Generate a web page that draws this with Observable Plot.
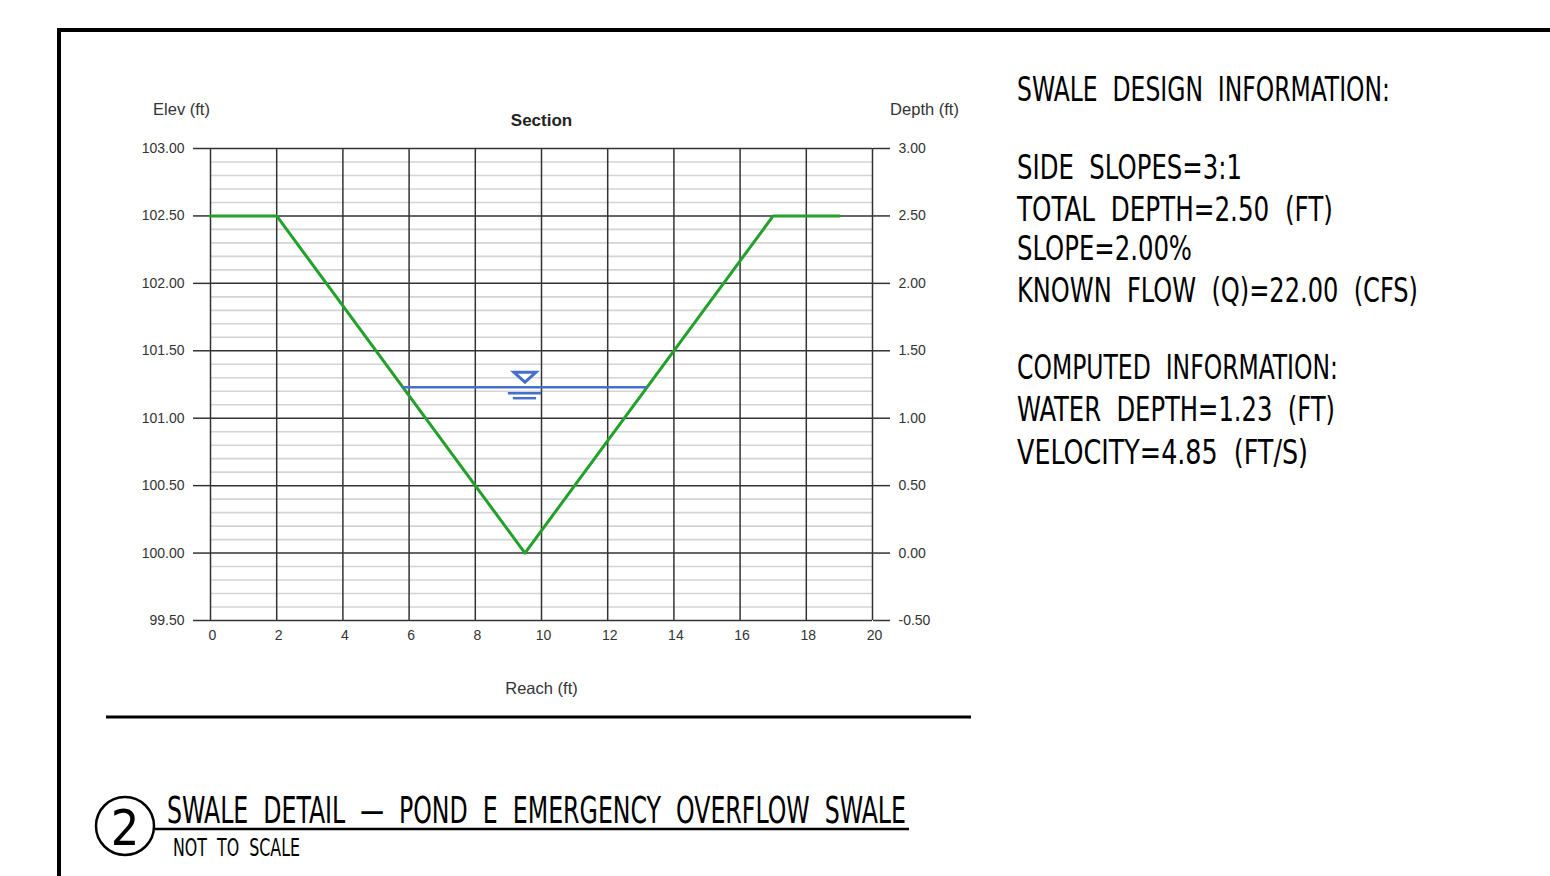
<!DOCTYPE html>
<html>
<head>
<meta charset="utf-8">
<script src="https://cdn.jsdelivr.net/npm/d3@7"></script>
<script src="https://cdn.jsdelivr.net/npm/@observablehq/plot@0.6"></script>
<style>
  html, body { margin: 0; padding: 0; background: #fff; }
  body { width: 1550px; height: 876px; position: relative; overflow: hidden; }
  #chart { position: absolute; left: 100px; top: 90px; }
  #sheet { position: absolute; left: 0; top: 0; pointer-events: none; }
  #sheet text { font-family: "Liberation Sans Narrow", "DejaVu Sans Condensed", "Liberation Sans", sans-serif; fill: #000; white-space: pre; }
</style>
</head>
<body>
<div id="chart"></div>
<svg id="sheet" width="1550" height="876" xmlns="http://www.w3.org/2000/svg"></svg>
<script>
// ---- data ----
const sectionReach = [0, 2, 9.5, 17, 19];          // ft
const sectionElev  = [102.5, 102.5, 100.0, 102.5, 102.5]; // ft
const waterElev = 101.23;                           // ft
const waterReach = [5.81, 13.19];                   // ft (where water meets side slopes)
const waterSymbolReach = 9.5;                       // ft
const waterSymbolBar1 = [9.0, 10.0];
const waterSymbolBar2 = [9.15, 9.85];
const reachTicks = [0, 2, 4, 6, 8, 10, 12, 14, 16, 18, 20];
const elevTicks = [99.5, 100.0, 100.5, 101.0, 101.5, 102.0, 102.5, 103.0];
const depthTickLabels = ["-0.50", "0.00", "0.50", "1.00", "1.50", "2.00", "2.50", "3.00"];
const minorElev = [99.6,99.7,99.8,99.9,100.1,100.2,100.3,100.4,100.6,100.7,100.8,100.9,
  101.1,101.2,101.3,101.4,101.6,101.7,101.8,101.9,102.1,102.2,102.3,102.4,102.6,102.7,102.8,102.9];

const designLines = [
  "SWALE  DESIGN  INFORMATION:",
  "SIDE  SLOPES=3:1",
  "TOTAL  DEPTH=2.50  (FT)",
  "SLOPE=2.00%",
  "KNOWN  FLOW  (Q)=22.00  (CFS)",
  "COMPUTED  INFORMATION:",
  "WATER  DEPTH=1.23  (FT)",
  "VELOCITY=4.85  (FT/S)"
];
const detailTitle = "SWALE  DETAIL  —  POND  E  EMERGENCY  OVERFLOW  SWALE";
const detailSub = "NOT  TO  SCALE";
const detailNumber = "2";

// ---- chart ----
const section = sectionReach.map((x, i) => ({x, y: sectionElev[i]}));
const gridDark = "#333";
const green = "#22a12a";
const blue = "#4470cc";

const flatTriangle = {
  draw(ctx, size) {
    const r = Math.sqrt(size / Math.PI);
    ctx.moveTo(-r, -r * 0.45);
    ctx.lineTo(r, -r * 0.45);
    ctx.lineTo(0, r * 0.45);
    ctx.closePath();
  }
};

const chart = Plot.plot({
  width: 880,
  height: 620,
  marginLeft: 110,
  marginRight: 108,
  marginTop: 58,
  marginBottom: 90,
  style: {fontFamily: "'Liberation Sans', Arial, sans-serif", fontSize: "14px", color: "#333", background: "transparent"},
  x: {domain: [0, 20]},
  y: {domain: [99.5, 103]},
  marks: [
    Plot.ruleY(minorElev, {stroke: "#d4d4d4", strokeWidth: 1.6}),
    Plot.ruleX(reachTicks, {y1: 99.5, y2: 103, stroke: gridDark, strokeWidth: 1.5}),
    Plot.ruleY(elevTicks, {stroke: gridDark, strokeWidth: 1.5}),
    Plot.axisY({anchor: "left", ticks: elevTicks, tickFormat: d => d.toFixed(2), tickSize: 17, tickPadding: 9, label: null, stroke: gridDark, strokeWidth: 1.5}),
    Plot.axisY({anchor: "right", ticks: elevTicks, tickFormat: (d) => depthTickLabels[elevTicks.indexOf(d)], tickSize: 17, tickPadding: 9, label: null, stroke: gridDark, strokeWidth: 1.5}),
    Plot.axisX({anchor: "bottom", ticks: reachTicks, tickSize: 0, tickPadding: 10, label: null, dx: 2}),
    Plot.line(section, {x: "x", y: "y", stroke: green, strokeWidth: 3}),
    Plot.ruleY([waterElev], {x1: waterReach[0], x2: waterReach[1], stroke: blue, strokeWidth: 2.5}),
    Plot.dot([waterElev], {x: () => waterSymbolReach, y: d => d, symbol: flatTriangle, r: 11, stroke: blue, fill: "#fff", strokeWidth: 3, dy: -10}),
    Plot.ruleY([waterElev], {x1: waterSymbolBar1[0], x2: waterSymbolBar1[1], stroke: blue, strokeWidth: 2.5, dy: 6}),
    Plot.ruleY([waterElev], {x1: waterSymbolBar2[0], x2: waterSymbolBar2[1], stroke: blue, strokeWidth: 2.5, dy: 11}),
    Plot.text(["Section"], {frameAnchor: "top", dy: -35, fontWeight: "bold", fontSize: 17, fill: "#222"}),
    Plot.text(["Elev (ft)"], {frameAnchor: "top-left", dx: -29, dy: -45, textAnchor: "middle", fontSize: 16.5, fill: "#333"}),
    Plot.text(["Depth (ft)"], {frameAnchor: "top-right", dx: 52, dy: -45, textAnchor: "middle", fontSize: 16.5, fill: "#333"}),
    Plot.text(["Reach (ft)"], {frameAnchor: "bottom", dy: 73, fontSize: 16.5, fill: "#333"})
  ]
});
document.getElementById("chart").appendChild(chart);

// ---- drawing sheet (border, notes, detail title) ----
const sheet = d3.select("#sheet");
sheet.append("line").attr("x1", 57).attr("y1", 30).attr("x2", 1550).attr("y2", 30).attr("stroke", "#000").attr("stroke-width", 4);
sheet.append("line").attr("x1", 59).attr("y1", 28).attr("x2", 59).attr("y2", 876).attr("stroke", "#000").attr("stroke-width", 4);
sheet.append("line").attr("x1", 106).attr("y1", 717).attr("x2", 971).attr("y2", 717).attr("stroke", "#000").attr("stroke-width", 3);

const designBaselines = [101, 179, 221, 260, 302, 379, 421, 464];
const designLengths = [373, 225, 316, 175, 401, 321, 318, 291];
designLines.forEach((t, i) => {
  sheet.append("text").attr("x", 1017).attr("y", designBaselines[i])
    .attr("font-size", 33).attr("textLength", designLengths[i]).attr("lengthAdjust", "spacingAndGlyphs")
    .text(t);
});

sheet.append("circle").attr("cx", 125).attr("cy", 826).attr("r", 29).attr("fill", "none").attr("stroke", "#000").attr("stroke-width", 2.5);
sheet.append("text").attr("x", 125).attr("y", 845).attr("text-anchor", "middle").attr("font-size", 50).text(detailNumber);
sheet.append("text").attr("x", 167).attr("y", 823).attr("font-size", 37)
  .attr("textLength", 739).attr("lengthAdjust", "spacingAndGlyphs").text(detailTitle);
sheet.append("line").attr("x1", 155).attr("y1", 829).attr("x2", 909).attr("y2", 829).attr("stroke", "#000").attr("stroke-width", 2.5);
sheet.append("text").attr("x", 173).attr("y", 856).attr("font-size", 25)
  .attr("textLength", 127).attr("lengthAdjust", "spacingAndGlyphs").text(detailSub);
</script>
</body>
</html>
